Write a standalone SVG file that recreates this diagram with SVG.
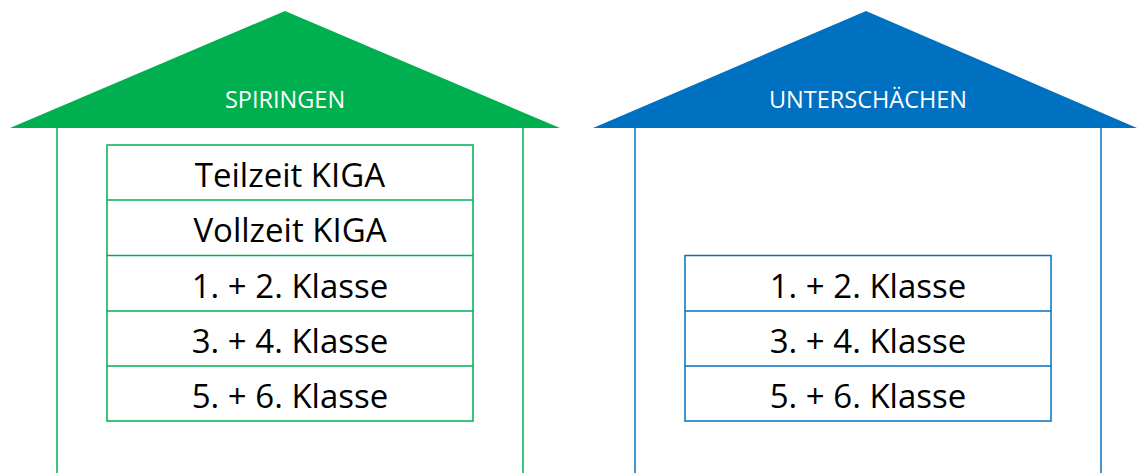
<svg xmlns="http://www.w3.org/2000/svg" width="1137" height="473" viewBox="0 0 1137 473">
<style>
.g{stroke:#00B050;fill:none;stroke-width:1.5}
.b{stroke:#0070C0;fill:none;stroke-width:1.5}
.cell{font-family:"Open Sans","Liberation Sans",sans-serif;font-size:33px;fill:#000;text-anchor:middle}
.roof{font-family:"Open Sans","Liberation Sans",sans-serif;font-size:23.5px;fill:#fff;text-anchor:middle}
</style>
<rect width="1137" height="473" fill="#fff"/>
<g id="spiringen">
<polygon points="285,11 560,128 10,128" fill="#00B050"/>
<text class="roof" x="285" y="108">SPIRINGEN</text>
<line class="g" x1="57" y1="128" x2="57" y2="473"/>
<line class="g" x1="523" y1="128" x2="523" y2="473"/>
</g>
<g id="spiringen-table">
<rect class="g" x="107" y="145" width="366" height="276" stroke-width="2"/>
<line class="g" x1="107" y1="200" x2="473" y2="200"/>
<line class="g" x1="107" y1="255.5" x2="473" y2="255.5"/>
<line class="g" x1="107" y1="311" x2="473" y2="311"/>
<line class="g" x1="107" y1="366" x2="473" y2="366"/>
<text class="cell" x="290" y="187">Teilzeit KIGA</text>
<text class="cell" x="290" y="242">Vollzeit KIGA</text>
<text class="cell" x="290" y="298">1. + 2. Klasse</text>
<text class="cell" x="290" y="353">3. + 4. Klasse</text>
<text class="cell" x="290" y="408">5. + 6. Klasse</text>
</g>
<g id="unterschaechen">
<polygon points="866,11 1137,128 593,128" fill="#0070C0"/>
<text class="roof" x="868" y="108">UNTERSCHÄCHEN</text>
<line class="b" x1="635" y1="128" x2="635" y2="473"/>
<line class="b" x1="1101" y1="128" x2="1101" y2="473"/>
</g>
<g id="unterschaechen-table">
<rect class="b" x="685" y="255.5" width="366" height="165.5" stroke-width="2"/>
<line class="b" x1="685" y1="311" x2="1051" y2="311"/>
<line class="b" x1="685" y1="366" x2="1051" y2="366"/>
<text class="cell" x="868" y="298">1. + 2. Klasse</text>
<text class="cell" x="868" y="353">3. + 4. Klasse</text>
<text class="cell" x="868" y="408">5. + 6. Klasse</text>
</g>
<g id="connectors"/>
</svg>
